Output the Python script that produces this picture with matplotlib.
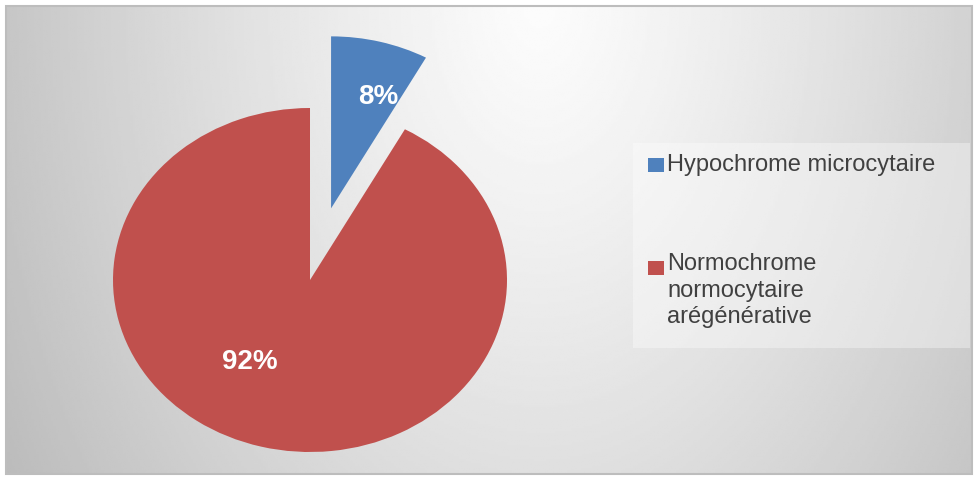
import numpy as np
import matplotlib.pyplot as plt
from matplotlib.patches import Rectangle

plt.rcParams['font.family'] = ['Liberation Sans', 'DejaVu Sans']

categories = ['Hypochrome microcytaire', 'Normochrome normocytaire arégénérative']
legend_text = ['Hypochrome microcytaire', 'Normochrome\nnormocytaire\narégénérative']
shares = [8, 92]
colors = ['#4F81BD', '#C0504D']
explode = [0.43, 0]

W, H = 976, 479
fig = plt.figure(figsize=(W / 100, H / 100), dpi=100)

# background canvas, in pixel units (y downwards)
bg = fig.add_axes([0, 0, 1, 1])
x0, y0, x1, y1 = 6, 6, 972, 474
xx, yy = np.meshgrid(np.linspace(x0, x1, 400), np.linspace(y0, y1, 200))
d = np.sqrt(((xx - 540) / 600) ** 2 + (yy / 900) ** 2)
shade = np.clip(252 - 62 * d ** 1.2, 0, 255) / 255
bg.imshow(shade, cmap='gray', vmin=0, vmax=1, extent=(x0, x1, y1, y0),
          aspect='auto', interpolation='bilinear')
bg.add_patch(Rectangle((x0, y0), x1 - x0, y1 - y0, fill=False, ec='#bdbdbd', lw=1.5))
bg.set_xlim(0, W)
bg.set_ylim(H, 0)
bg.axis('off')

# legend panel
bg.add_patch(Rectangle((633, 143), 337, 205, fc='white', alpha=0.35, ec='none'))
bg.add_patch(Rectangle((648, 158), 16, 14, fc=colors[0], ec='none'))
bg.text(667, 171, legend_text[0], fontsize=17, color='#404040', va='baseline', ha='left')
bg.add_patch(Rectangle((648, 261), 16, 14, fc=colors[1], ec='none'))
bg.text(667, 253, legend_text[1], fontsize=17, color='#404040', va='top', ha='left',
        linespacing=1.27)

# pie, stretched to an ellipse
ax = fig.add_axes([113 / W, (H - 460.6) / H, 394 / W, 438.6 / H])
wedges, texts, autotexts = ax.pie(
    shares, colors=colors, explode=explode, startangle=90, counterclock=False,
    autopct='%.0f%%', pctdistance=0.68,
    textprops=dict(color='white', fontsize=20, fontweight='bold'),
    wedgeprops=dict(linewidth=0))
ax.set_aspect('auto')
ax.set_xlim(-1, 1)
ax.set_ylim(-1.05, 1.5)
ax.axis('off')

autotexts[0].set_position((0.345, 1.064))
autotexts[1].set_position((-0.305, -0.477))

fig.savefig('out.png', dpi=100, facecolor='white')
